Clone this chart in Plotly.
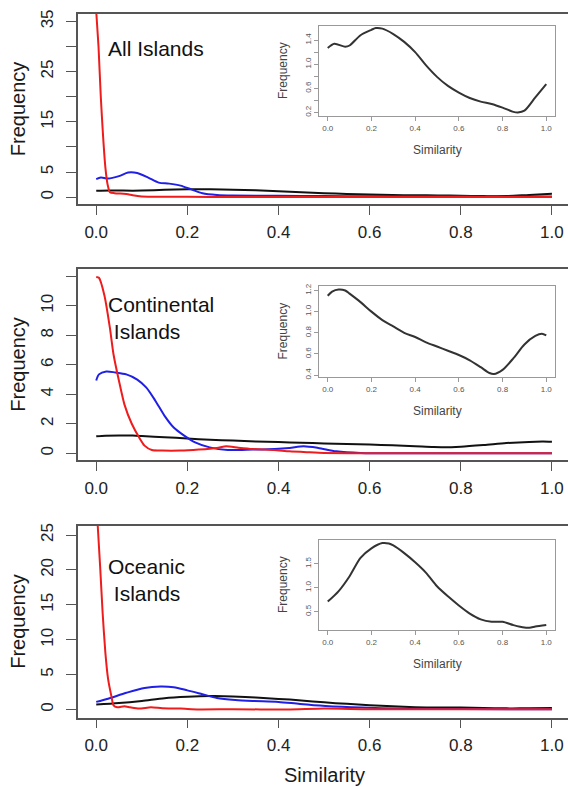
import plotly.graph_objects as go

# ---------------- data ----------------
# Panel 1: All Islands
all_black_x = [0, 0.03, 0.08, 0.1, 0.15, 0.2, 0.22, 0.25, 0.3, 0.35, 0.4, 0.45, 0.5,
               0.55, 0.6, 0.65, 0.7, 0.75, 0.8, 0.85, 0.87, 0.9, 0.95, 1.0]
all_black_y = [1.27, 1.34, 1.29, 1.31, 1.48, 1.57, 1.60, 1.59, 1.50, 1.37, 1.20, 0.98, 0.79,
               0.64, 0.53, 0.44, 0.38, 0.34, 0.28, 0.21, 0.20, 0.23, 0.45, 0.67]
all_red_x = [0, 0.005, 0.01, 0.015, 0.02, 0.025, 0.03, 0.04, 0.06, 0.07, 0.08, 0.1, 0.15,
             0.2, 0.3, 0.4, 0.5, 0.6, 0.7, 0.8, 0.9, 1.0]
all_red_y = [37, 30, 20, 12.2, 6, 2.5, 1.0, 0.8, 0.7, 0.6, 0.4, 0.15, 0.08,
             0.06, 0.05, 0.05, 0.05, 0.05, 0.05, 0.05, 0.05, 0.05]
all_blue_x = [0, 0.01, 0.026, 0.05, 0.07, 0.09, 0.114, 0.137, 0.16, 0.185, 0.21, 0.233,
              0.265, 0.3, 0.4, 0.5, 0.6, 0.7, 0.8, 0.9, 1.0]
all_blue_y = [3.6, 3.9, 3.7, 4.2, 4.9, 4.8, 3.9, 2.9, 2.7, 2.3, 1.5, 0.8,
              0.45, 0.33, 0.26, 0.22, 0.2, 0.18, 0.16, 0.15, 0.15]

# Panel 2: Continental Islands
con_black_x = [0, 0.02, 0.05, 0.08, 0.1, 0.15, 0.2, 0.25, 0.3, 0.35, 0.4, 0.45, 0.5,
               0.55, 0.6, 0.65, 0.7, 0.74, 0.76, 0.8, 0.85, 0.9, 0.95, 0.98, 1.0]
con_black_y = [1.15, 1.19, 1.21, 1.20, 1.17, 1.09, 1.00, 0.92, 0.86, 0.80, 0.76, 0.71, 0.67,
               0.63, 0.59, 0.54, 0.475, 0.42, 0.41, 0.45, 0.56, 0.69, 0.77, 0.79, 0.775]
con_red_x = [0, 0.006, 0.018, 0.03, 0.038, 0.05, 0.062, 0.078, 0.094, 0.106, 0.122, 0.145,
             0.185, 0.225, 0.265, 0.285, 0.312, 0.344, 0.39, 0.424, 0.463, 0.5, 0.6, 0.8, 1.0]
con_red_y = [11.96, 11.9, 10.7, 8.5, 6.7, 4.9, 3.3, 2.0, 1.08, 0.52, 0.22, 0.18,
             0.18, 0.25, 0.36, 0.47, 0.38, 0.29, 0.22, 0.13, 0.07, 0.02, 0.0, 0.0, 0.0]
con_blue_x = [0, 0.006, 0.022, 0.042, 0.066, 0.09, 0.11, 0.13, 0.15, 0.17, 0.193, 0.217,
              0.249, 0.289, 0.344, 0.392, 0.424, 0.455, 0.487, 0.527, 0.58, 0.7, 0.85, 1.0]
con_blue_y = [4.94, 5.35, 5.55, 5.48, 5.35, 5.0, 4.45, 3.55, 2.54, 1.75, 1.2, 0.74,
              0.4, 0.22, 0.25, 0.29, 0.36, 0.47, 0.36, 0.13, 0.02, 0.0, 0.0, 0.0]

# Panel 3: Oceanic Islands
oce_black_x = [0, 0.05, 0.1, 0.15, 0.2, 0.25, 0.28, 0.3, 0.35, 0.4, 0.45, 0.5, 0.55, 0.6,
               0.65, 0.7, 0.75, 0.8, 0.85, 0.9, 0.93, 0.95, 1.0]
oce_black_y = [0.71, 0.93, 1.24, 1.62, 1.82, 1.93, 1.92, 1.88, 1.72, 1.53, 1.31, 1.03, 0.82, 0.63,
               0.46, 0.34, 0.29, 0.29, 0.22, 0.17, 0.17, 0.19, 0.22]
oce_red_x = [0, 0.009, 0.014, 0.02, 0.026, 0.033, 0.038, 0.046, 0.062, 0.074, 0.094, 0.12,
             0.145, 0.185, 0.225, 0.3, 0.42, 0.5, 0.6, 0.8, 1.0]
oce_red_y = [30, 20, 13.9, 8.2, 4.4, 2.0, 0.6, 0.33, 0.47, 0.33, 0.14, 0.33,
             0.19, 0.14, 0.02, 0.05, 0.0, 0.14, 0.05, 0.05, 0.05]
oce_blue_x = [0, 0.026, 0.066, 0.106, 0.141, 0.17, 0.2, 0.233, 0.265, 0.305, 0.344, 0.4,
              0.447, 0.503, 0.583, 0.66, 0.8, 1.0]
oce_blue_y = [1.1, 1.56, 2.4, 3.1, 3.3, 3.2, 2.75, 2.2, 1.66, 1.37, 1.23, 1.1,
              0.8, 0.52, 0.28, 0.14, 0.07, 0.05]

panel_names = ["All Islands", "Continental<br>\u00a0Islands", "Oceanic<br>\u00a0Islands"]
main_ticks = [list(range(0, 36, 5)), list(range(0, 13, 2)), list(range(0, 26, 5))]
main_ticktext = [["0", "5", "", "15", "", "25", "", "35"],
                 ["0", "2", "4", "6", "8", "10", ""],
                 ["0", "5", "10", "15", "20", "25"]]
inset_ticks = [[0.2, 0.4, 0.6, 0.8, 1.0, 1.2, 1.4],
               [0.4, 0.6, 0.8, 1.0, 1.2],
               [0.5, 1.0, 1.5, 2.0]]
inset_ticktext = [["0.2", "", "0.6", "", "1.0", "", "1.4"],
                  ["0.4", "0.6", "0.8", "1.0", "1.2"],
                  ["0.5", "1.0", "1.5", "2.0"]]
x_ticks = [0, 0.2, 0.4, 0.6, 0.8, 1.0]
x_ticktext = ["0.0", "0.2", "0.4", "0.6", "0.8", "1.0"]

# ---------------- layout geometry ----------------
W, H = 568, 787
FONT = "Liberation Sans, Arial, Helvetica, sans-serif"
RED, BLUE, BLACK = "#ee1c1c", "#1f1fe6", "#111111"

def py(p):
    return 1 - p / H

main_boxes = [(10, 202), (267, 460), (526, 719)]
main_ranges = [[-1.45, 36.5], [-0.49, 12.5], [-1.14, 26.3]]
inset_boxes = [(22, 113), (284, 376), (540, 631)]
inset_ranges = [[0.139, 1.636], [0.381, 1.244], [0.114, 1.997]]
label_y = [45, 316, 580]

series = [
    (all_red_x, all_red_y, all_blue_x, all_blue_y, all_black_x, all_black_y),
    (con_red_x, con_red_y, con_blue_x, con_blue_y, con_black_x, con_black_y),
    (oce_red_x, oce_red_y, oce_blue_x, oce_blue_y, oce_black_x, oce_black_y),
]

fig = go.Figure()
layout = dict(width=W, height=H, margin=dict(l=0, r=0, t=0, b=0),
              paper_bgcolor="white", plot_bgcolor="white", showlegend=False,
              font=dict(family=FONT, color="#1a1a1a"))
annotations = []

x_main_dom = [78 / W, 1.0]
x_main_range = [-0.04, -0.04 + (W - 78) / 455.7]
x_in_dom = [319 / W, 555 / W]

for i in range(3):
    mx = "x" + ("" if i == 0 else str(i + 1))
    my = "y" + ("" if i == 0 else str(i + 1))
    ix = "x" + str(i + 4)
    iy = "y" + str(i + 4)
    rx, ry, bx, by, kx, ky = series[i]
    # main traces
    fig.add_trace(go.Scatter(x=kx, y=ky, mode="lines", xaxis=mx, yaxis=my,
                             line=dict(color=BLACK, width=2, shape="spline", smoothing=0.8)))
    fig.add_trace(go.Scatter(x=bx, y=by, mode="lines", xaxis=mx, yaxis=my,
                             line=dict(color=BLUE, width=2, shape="spline", smoothing=0.8)))
    fig.add_trace(go.Scatter(x=rx, y=ry, mode="lines", xaxis=mx, yaxis=my,
                             line=dict(color=RED, width=2, shape="spline", smoothing=0.6)))
    # inset trace (black density)
    fig.add_trace(go.Scatter(x=kx, y=ky, mode="lines", xaxis=ix, yaxis=iy,
                             line=dict(color="#333333", width=2, shape="spline", smoothing=0.8)))

    top, bot = main_boxes[i]
    xa = "xaxis" + ("" if i == 0 else str(i + 1))
    ya = "yaxis" + ("" if i == 0 else str(i + 1))
    layout[xa] = dict(domain=x_main_dom, range=x_main_range, anchor=my,
                      showline=True, mirror=True, linecolor="#555555", linewidth=1.6,
                      ticks="outside", ticklen=9, tickwidth=1.4, tickcolor="#555555",
                      tickvals=x_ticks, ticktext=x_ticktext, showgrid=False, zeroline=False,
                      tickfont=dict(size=17, family=FONT, color="#222222"),
                      ticklabelstandoff=2)
    layout[ya] = dict(domain=[py(bot), py(top)], range=main_ranges[i], anchor=mx,
                      showline=True, mirror=False, linecolor="#555555", linewidth=1.6,
                      ticks="outside", ticklen=10, tickwidth=1.4, tickcolor="#555555",
                      tickvals=main_ticks[i], ticktext=main_ticktext[i],
                      tickangle=-90, showgrid=False, zeroline=False,
                      tickfont=dict(size=17, family=FONT, color="#222222"),
                      ticklabelstandoff=6)
    itop, ibot = inset_boxes[i]
    layout["xaxis" + str(i + 4)] = dict(domain=x_in_dom, range=[-0.04, 1.04], anchor=iy,
                                        showline=True, mirror=True, linecolor="#999999", linewidth=1,
                                        ticks="outside", ticklen=4, tickwidth=1, tickcolor="#999999",
                                        tickvals=x_ticks, ticktext=x_ticktext, showgrid=False,
                                        zeroline=False,
                                        tickfont=dict(size=8, family=FONT, color="#555555"))
    layout["yaxis" + str(i + 4)] = dict(domain=[py(ibot), py(itop)], range=inset_ranges[i],
                                        anchor=ix,
                                        showline=True, mirror=True, linecolor="#999999", linewidth=1,
                                        ticks="outside", ticklen=4, tickwidth=1, tickcolor="#999999",
                                        tickvals=inset_ticks[i], ticktext=inset_ticktext[i],
                                        tickangle=-90, showgrid=False, zeroline=False,
                                        tickfont=dict(size=8, family=FONT, color="#555555"))
    # y-axis title of main panel
    annotations.append(dict(text="Frequency", xref="paper", yref="paper", x=18 / W,
                            y=py((top + bot) / 2), textangle=-90, showarrow=False,
                            font=dict(size=20, family=FONT, color="#1a1a1a"),
                            xanchor="center", yanchor="middle"))
    # panel label
    annotations.append(dict(text=panel_names[i], xref="paper", yref="paper", x=106 / W,
                            y=py(label_y[i]), showarrow=False, align="left",
                            font=dict(size=21, family=FONT, color="#111111"),
                            xanchor="left", yanchor="middle"))
    # inset titles
    annotations.append(dict(text="Similarity", xref="paper", yref="paper", x=437 / W,
                            y=py(ibot + 34), showarrow=False,
                            font=dict(size=12, family=FONT, color="#444444"),
                            xanchor="center", yanchor="middle"))
    annotations.append(dict(text="Frequency", xref="paper", yref="paper", x=283 / W,
                            y=py((itop + ibot) / 2), textangle=-90, showarrow=False,
                            font=dict(size=12, family=FONT, color="#444444"),
                            xanchor="center", yanchor="middle"))

annotations.append(dict(text="Similarity", xref="paper", yref="paper", x=324 / W,
                        y=py(777), showarrow=False,
                        font=dict(size=20, family=FONT, color="#1a1a1a"),
                        xanchor="center", yanchor="middle"))
layout["annotations"] = annotations
fig.update_layout(**layout)
fig.write_html("out.html", config={"displayModeBar": False},
               post_script="document.body.style.margin='0';document.body.style.overflow='hidden';")
